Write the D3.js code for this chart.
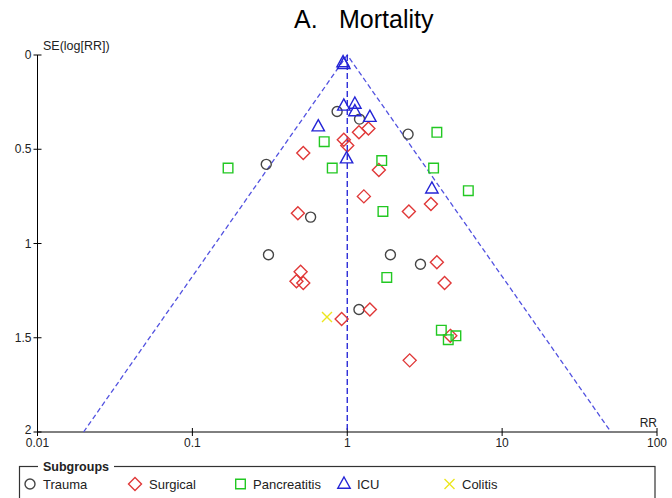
<!DOCTYPE html>
<html>
<head>
<meta charset="utf-8">
<script src="https://cdn.jsdelivr.net/npm/d3@7"></script>
<style>
  html, body { margin: 0; padding: 0; background: #fff; }
  svg { display: block; font-family: "Liberation Sans", Arial, sans-serif; }
</style>
</head>
<body>
<svg id="chart" width="672" height="498"></svg>
<script>
// Funnel plot of study effects: risk ratio against standard error of log RR
const xTicks = [0.01, 0.1, 1, 10, 100];
const xTickLabels = ["0.01", "0.1", "1", "10", "100"];
const yTicks = [0, 0.5, 1, 1.5, 2];
const yTickLabels = ["0", "0.5", "1", "1.5", "2"];

const subgroups = ["Trauma", "Surgical", "Pancreatitis", "ICU", "Colitis"];

// [RR, SE(log RR)] per study
const trauma = [
  [0.30, 0.58], [0.86, 0.30], [1.20, 0.34], [2.47, 0.42], [0.58, 0.86],
  [0.31, 1.06], [1.90, 1.06], [2.97, 1.11], [1.19, 1.35]
];
const surgical = [
  [0.52, 0.52], [0.95, 0.45], [1.00, 0.48], [1.19, 0.41], [1.37, 0.39],
  [1.60, 0.61], [1.28, 0.75], [0.48, 0.84], [2.50, 0.83], [3.47, 0.79],
  [3.79, 1.10], [0.50, 1.15], [0.47, 1.20], [0.52, 1.21], [0.92, 1.40],
  [1.40, 1.35], [4.25, 1.21], [4.63, 1.49], [2.53, 1.62]
];
const pancreatitis = [
  [0.71, 0.46], [0.80, 0.60], [0.17, 0.60], [1.67, 0.56], [3.79, 0.41],
  [3.61, 0.60], [6.05, 0.72], [1.70, 0.83], [1.80, 1.18], [4.05, 1.46],
  [4.49, 1.51], [5.03, 1.49]
];
const icu = [
  [0.94, 0.04], [0.95, 0.05], [0.95, 0.27], [1.12, 0.26], [1.12, 0.30],
  [1.40, 0.33], [0.65, 0.38], [0.99, 0.55], [3.52, 0.71]
];
const colitis = [
  [0.74, 1.39]
];

const pooledRR = 1;
const z = 1.96;
const seMax = 2;

const svg = d3.select("#chart");

const x = d3.scaleLog().domain([0.01, 100]).range([37.5, 657]);
const y = d3.scaleLinear().domain([0, 2]).range([55, 432]);

// Title
const title = svg.append("g").attr("font-size", 25).attr("fill", "#000");
title.append("text").attr("x", 294).attr("y", 28).text("A.");
title.append("text").attr("x", 339).attr("y", 28).text("Mortality");

// Axes with ticks crossing the axis line
const axes = svg.append("g").attr("stroke", "#000").attr("stroke-width", 1);
axes.append("line").attr("x1", x(0.01)).attr("x2", x(100)).attr("y1", y(2)).attr("y2", y(2));
axes.append("line").attr("x1", x(0.01)).attr("x2", x(0.01)).attr("y1", y(0)).attr("y2", y(2));
axes.selectAll(".xt").data(xTicks).join("line")
  .attr("x1", d => x(d)).attr("x2", d => x(d))
  .attr("y1", y(2) - 4).attr("y2", y(2) + 4);
axes.selectAll(".yt").data(yTicks).join("line")
  .attr("x1", x(0.01) - 4).attr("x2", x(0.01) + 4)
  .attr("y1", d => y(d)).attr("y2", d => y(d));

const labels = svg.append("g").attr("font-size", 12).attr("fill", "#222");
labels.selectAll(".xl").data(xTicks).join("text")
  .attr("x", d => x(d)).attr("y", y(2) + 15)
  .attr("text-anchor", "middle")
  .text((d, i) => xTickLabels[i]);
labels.selectAll(".yl").data(yTicks).join("text")
  .attr("x", x(0.01) - 6).attr("y", d => y(d) + (d === 2 ? 2 : 4))
  .attr("text-anchor", "end")
  .text((d, i) => yTickLabels[i]);

labels.append("text").attr("x", 43).attr("y", 50).attr("font-size", 12.5).text("SE(log[RR])");
labels.append("text").attr("x", 657).attr("y", 427).attr("text-anchor", "end").text("RR");

// Funnel: pooled estimate and 95% limits
const lo = pooledRR * Math.exp(-z * seMax);
const hi = pooledRR * Math.exp(z * seMax);
svg.append("path")
  .attr("d", d3.line()([[x(lo), y(seMax)], [x(pooledRR), y(0)], [x(hi), y(seMax)]]))
  .attr("fill", "none").attr("stroke", "#5252e0").attr("stroke-width", 1.3)
  .attr("stroke-dasharray", "5,3");
svg.append("line")
  .attr("x1", x(pooledRR)).attr("x2", x(pooledRR))
  .attr("y1", y(0)).attr("y2", y(seMax))
  .attr("stroke", "#1c1cd4").attr("stroke-width", 1.3)
  .attr("stroke-dasharray", "6,3");

// Marker shapes
const shapes = {
  Trauma: "M5,0A5,5 0 1,1 -5,0A5,5 0 1,1 5,0Z",
  Surgical: "M0,-6.5L6.5,0L0,6.5L-6.5,0Z",
  Pancreatitis: "M-4.8,-4.8H4.8V4.8H-4.8Z",
  ICU: "M0,-7L6.2,4.2H-6.2Z",
  Colitis: "M-5,-5L5,5M5,-5L-5,5"
};
const colors = {
  Trauma: "#454545",
  Surgical: "#e03838",
  Pancreatitis: "#22c822",
  ICU: "#2424d6",
  Colitis: "#ece61e"
};
const seriesData = {
  Trauma: trauma, Surgical: surgical, Pancreatitis: pancreatitis, ICU: icu, Colitis: colitis
};

subgroups.forEach(name => {
  svg.append("g").selectAll("path").data(seriesData[name]).join("path")
    .attr("transform", d => `translate(${x(d[0])},${y(d[1])})`)
    .attr("d", shapes[name])
    .attr("fill", "none")
    .attr("stroke", colors[name])
    .attr("stroke-width", 1.4);
});

// Legend
const legend = svg.append("g");
legend.append("rect")
  .attr("x", 19.5).attr("y", 466.5).attr("width", 635.5).attr("height", 60)
  .attr("fill", "none").attr("stroke", "#333").attr("stroke-width", 1.2);
legend.append("rect").attr("x", 38).attr("y", 459).attr("width", 76).attr("height", 14).attr("fill", "#fff");
legend.append("text").attr("x", 43).attr("y", 471).attr("font-size", 12.5)
  .attr("font-weight", "bold").attr("fill", "#222").text("Subgroups");

const legendX = [30, 135, 240.5, 344, 449.5];
const legendTextX = [43, 149, 253, 357, 462];
subgroups.forEach((name, i) => {
  legend.append("path")
    .attr("transform", `translate(${legendX[i]},484)`)
    .attr("d", shapes[name])
    .attr("fill", "none").attr("stroke", colors[name]).attr("stroke-width", 1.4);
  legend.append("text").attr("x", legendTextX[i]).attr("y", 489)
    .attr("font-size", 13).attr("fill", "#222").text(name);
});
</script>
</body>
</html>
